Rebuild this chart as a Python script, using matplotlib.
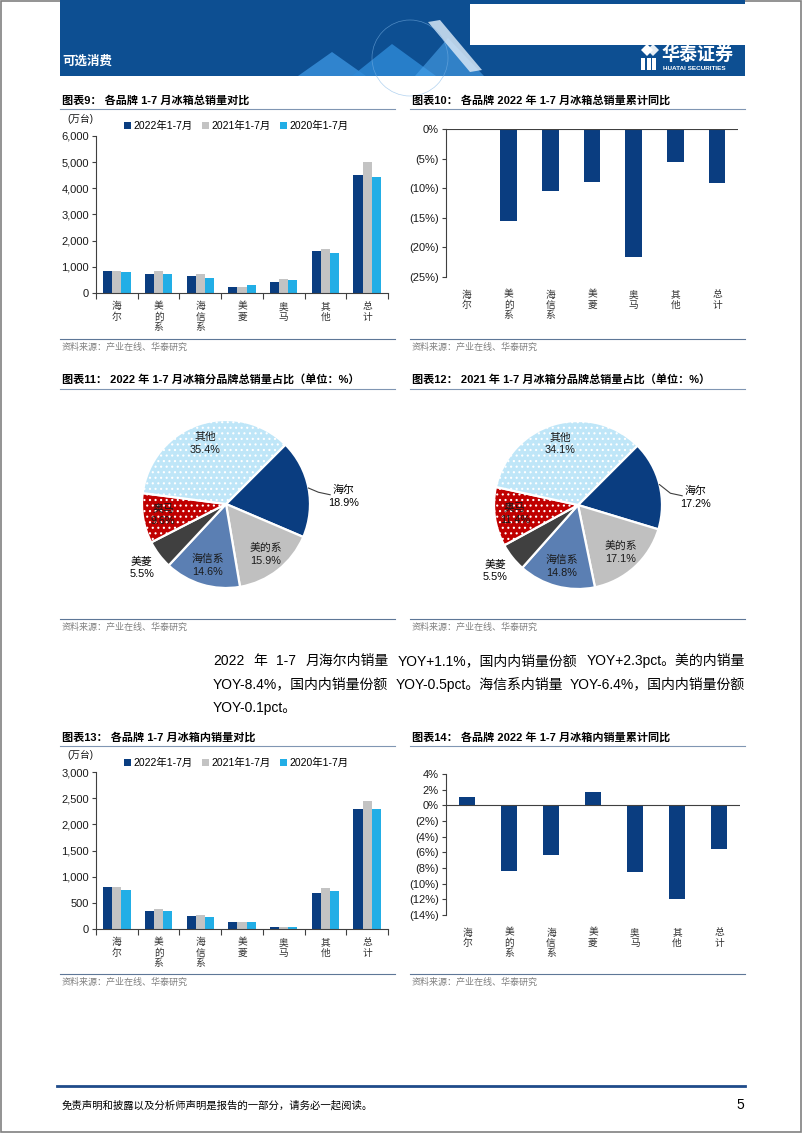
import numpy as np
import matplotlib
matplotlib.use("Agg")
import matplotlib.pyplot as plt
from matplotlib.patches import Rectangle, Polygon, Circle
from matplotlib.ticker import FuncFormatter, FixedLocator

plt.rcParams['font.family'] = ['Liberation Sans', 'Noto Sans CJK SC']
plt.rcParams['hatch.linewidth'] = 0.8
plt.rcParams['axes.unicode_minus'] = False

# ---- data ----
brands = ['海尔', '美的系', '海信系', '美菱', '奥马', '其他', '总计']
series_names = ['2022年1-7月', '2021年1-7月', '2020年1-7月']

total_2022 = [850, 710, 650, 230, 430, 1590, 4520]
total_2021 = [850, 850, 735, 240, 545, 1690, 4990]
total_2020 = [800, 720, 570, 290, 480, 1520, 4430]
total_yoy = [-0.2, -15.5, -10.5, -8.9, -21.7, -5.6, -9.1]

pie_brands = ['海尔', '美的系', '海信系', '美菱', '奥马', '其他']
share_2022 = [18.9, 15.9, 14.6, 5.5, 9.6, 35.4]
share_2021 = [17.2, 17.1, 14.8, 5.5, 11.4, 34.1]

dom_2022 = [800, 346, 256, 128, 35, 680, 2300]
dom_2021 = [795, 378, 269, 128, 37, 776, 2440]
dom_2020 = [750, 353, 231, 135, 33, 724, 2288]
dom_yoy = [1.1, -8.4, -6.4, 1.7, -8.5, -11.9, -5.6]

# ---- colours ----
NAVY = '#0A3D80'
GRAY = '#C3C3C3'
CYAN = '#22AEE6'
pie_colors = [NAVY, '#C0C0C0', '#5B7FB3', '#404040', '#C00000', '#BFE6F8']
pie_hatch = [None, None, None, None, '...', '...']
LINE = '#8096B3'

W, H = 802, 1133
fig = plt.figure(figsize=(W / 100, H / 100), dpi=100)


def rect(x0, y0, x1, y1):
    # pixel box (top-left origin) -> figure fraction
    return [x0 / W, 1 - y1 / H, (x1 - x0) / W, (y1 - y0) / H]


bg = fig.add_axes([0, 0, 1, 1])
bg.set_xlim(0, W)
bg.set_ylim(H, 0)
bg.axis('off')

# page frame
bg.add_patch(Rectangle((0.5, 0.5), W - 1.5, H - 1.5, fill=False, ec='#808080', lw=1.2))

# header banner
bg.add_patch(Rectangle((60, 0), 685, 76, fc='#0D4F92', ec='none'))
bg.add_patch(Rectangle((470, 4), 275, 41, fc='white', ec='none'))
for pts, c, a in [([(298, 76), (332, 52), (366, 76)], '#3D97E3', 0.75),
                  ([(352, 76), (392, 44), (436, 76)], '#2E8AD8', 0.8),
                  ([(415, 76), (448, 38), (484, 76)], '#4AA3EC', 0.6),
                  ([(428, 22), (440, 20), (482, 70), (470, 72)], '#D5E6F6', 0.85)]:
    bg.add_patch(Polygon(pts, closed=True, fc=c, ec='none', alpha=a))
bg.add_patch(Circle((410, 58), 38, fill=False, ec='#7DB4E6', lw=0.5, alpha=0.6))
bg.text(62, 62, '可选消费', color='white', fontsize=9, fontweight='bold', va='center')

# logo
bg.add_patch(Polygon([(641, 50), (647, 44), (653, 50), (647, 56)], fc='white', ec='none'))
bg.add_patch(Polygon([(647, 50), (653, 44), (659, 50), (653, 56)], fc='white', ec='none', alpha=0.9))
for xb in [641, 646.5, 652]:
    bg.add_patch(Rectangle((xb, 58), 4, 12, fc='white', ec='none'))
bg.text(662, 55, '华泰证券', color='white', fontsize=13, fontweight='bold', va='center')
bg.text(663, 68, 'HUATAI SECURITIES', color='white', fontsize=4.6, fontweight='bold', va='center')


# chart titles / source lines
def frame_text(x0, x1, y_title, title, y_src):
    bg.text(x0 + 2, y_title, title, fontsize=8, fontweight='bold', va='center')
    bg.plot([x0, x1], [y_title + 9, y_title + 9], color=LINE, lw=0.8)
    bg.plot([x0, x1], [y_src - 8, y_src - 8], color='#5E7797', lw=0.8)
    bg.text(x0 + 2, y_src, '资料来源：产业在线、华泰研究', fontsize=6.5, color='#808080', va='center')


frame_text(60, 395, 100, '图表9： 各品牌 1-7 月冰箱总销量对比', 347)
frame_text(410, 745, 100, '图表10： 各品牌 2022 年 1-7 月冰箱总销量累计同比', 347)
frame_text(60, 395, 380, '图表11： 2022 年 1-7 月冰箱分品牌总销量占比（单位：%）', 627)
frame_text(410, 745, 380, '图表12： 2021 年 1-7 月冰箱分品牌总销量占比（单位：%）', 627)
frame_text(60, 395, 737, '图表13： 各品牌 1-7 月冰箱内销量对比', 982)
frame_text(410, 745, 737, '图表14： 各品牌 2022 年 1-7 月冰箱内销量累计同比', 982)

# paragraph, justified between x=213 and x=745
para = ['2022 年 1-7 月海尔内销量 YOY+1.1%，国内内销量份额 YOY+2.3pct。美的内销量',
        'YOY-8.4%，国内内销量份额 YOY-0.5pct。海信系内销量 YOY-6.4%，国内内销量份额',
        'YOY-0.1pct。']
renderer = fig.canvas.get_renderer()
PX0, PX1 = 213, 745
for i, line in enumerate(para):
    y = 661 + i * 23.5
    tokens = line.split(' ')
    if i == len(para) - 1:
        bg.text(PX0, y, line, fontsize=10, va='center')
        continue
    objs = [bg.text(0, y, t, fontsize=10, va='center') for t in tokens]
    widths = [o.get_window_extent(renderer).width for o in objs]
    gap = (PX1 - PX0 - sum(widths)) / (len(tokens) - 1)
    xpos = PX0
    for o, wd in zip(objs, widths):
        o.set_x(xpos)
        xpos += wd + gap

# footer
bg.plot([57, 745], [1086, 1086], color='#1F4B8A', lw=2)
bg.text(62, 1105, '免责声明和披露以及分析师声明是报告的一部分，请务必一起阅读。',
        fontsize=7.5, style='italic', va='center')
bg.text(744, 1105, '5', fontsize=10, ha='right', va='center')

cat_labels = ['\n'.join(b) for b in brands]
x = np.arange(len(brands))


def style_axis(ax):
    for s in ['top', 'right']:
        ax.spines[s].set_visible(False)
    ax.spines['left'].set_color('#404040')
    ax.spines['left'].set_linewidth(0.8)
    ax.tick_params(axis='y', direction='out', length=3, width=0.8, color='#404040',
                   labelsize=8, pad=2, labelcolor='#1a1a1a')
    ax.set_xlim(-0.5, len(brands) - 0.5)
    ax.set_xticks(x)
    ax.set_xticklabels(cat_labels, fontsize=7, linespacing=1.05, color='#333333')
    ax.tick_params(axis='x', which='major', length=0, pad=6)
    ax.patch.set_alpha(0)


def grouped_bars(box, s22, s21, s20, ymax, ystep, legend_y, unit_y):
    ax = fig.add_axes(rect(*box))
    w = 0.22
    ax.bar(x - w, s22, w, color=NAVY, label=series_names[0])
    ax.bar(x, s21, w, color=GRAY, label=series_names[1])
    ax.bar(x + w, s20, w, color=CYAN, label=series_names[2])
    style_axis(ax)
    ax.set_ylim(0, ymax)
    ax.set_yticks(np.arange(0, ymax + 1, ystep))
    ax.yaxis.set_major_formatter(FuncFormatter(lambda v, p: f'{v:,.0f}'))
    ax.spines['bottom'].set_color('#404040')
    ax.spines['bottom'].set_linewidth(0.8)
    ax.xaxis.set_minor_locator(FixedLocator(np.arange(-0.5, len(brands), 1.0)))
    ax.tick_params(axis='x', which='minor', length=4, width=0.8, color='#404040')
    ax.legend(loc='center left', bbox_to_anchor=(124 / W, 1 - legend_y / H),
              bbox_transform=fig.transFigure, ncol=3, frameon=False, fontsize=7.5,
              handlelength=0.65, handleheight=0.65, handletextpad=0.25,
              columnspacing=0.9, borderaxespad=0, borderpad=0)
    bg.text(67, unit_y, '(万台)', fontsize=7, va='center', color='#1a1a1a')
    return ax


def yoy_bars(box, vals, ylo, yhi, ystep):
    ax = fig.add_axes(rect(*box))
    ax.bar(x, vals, 0.4, color=NAVY)
    style_axis(ax)
    ax.spines['bottom'].set_visible(False)
    ax.axhline(0, color='#404040', lw=0.8)
    ax.set_ylim(ylo, yhi)
    ax.set_yticks(np.arange(ylo, yhi + 0.1, ystep))
    ax.yaxis.set_major_formatter(
        FuncFormatter(lambda v, p: f'({abs(v):.0f}%)' if v < 0 else f'{v:.0f}%'))
    ax.tick_params(axis='x', which='major', pad=9)
    return ax


grouped_bars((96, 136, 388, 293), total_2022, total_2021, total_2020, 6000, 1000, 126, 119)
yoy_bars((446, 129, 738, 277), total_yoy, -25, 0, 5)
grouped_bars((96, 772, 388, 929), dom_2022, dom_2021, dom_2020, 3000, 500, 763, 755)
yoy_bars((446, 774, 740, 915), dom_yoy, -14, 4, 2)


def share_pie(cx, cy, shares):
    r_px = 84
    half = 125
    ax = fig.add_axes(rect(cx - half, cy - half, cx + half, cy + half))
    wedges, _ = ax.pie(shares, colors=pie_colors, startangle=45, counterclock=False,
                       wedgeprops=dict(edgecolor='white', linewidth=1.6))
    for wdg, h in zip(wedges, pie_hatch):
        if h:
            wdg.set_hatch(h)
    lim = half / r_px
    ax.set_xlim(-lim, lim)
    ax.set_ylim(-lim, lim)
    ax.set_aspect('equal')
    ax.axis('off')
    for wdg, name, val in zip(wedges, pie_brands, shares):
        mid = np.deg2rad((wdg.theta1 + wdg.theta2) / 2)
        txt = f'{name}\n{val:.1f}%'
        if name == '海尔':
            ex, ey = np.cos(mid), np.sin(mid)
            ax.plot([ex, 1.1, 1.24], [ey, 0.14, 0.11], color='#404040', lw=0.8)
            ax.text(1.40, 0.09, txt, ha='center', va='center', fontsize=7.8, linespacing=1.35)
        elif name == '美菱':
            ax.text(1.26 * np.cos(mid), 1.26 * np.sin(mid), txt, ha='center', va='center',
                    fontsize=7.8, linespacing=1.35)
        else:
            ax.text(0.76 * np.cos(mid), 0.76 * np.sin(mid), txt, ha='center', va='center',
                    fontsize=7.8, linespacing=1.35, color='#1a1a1a')


share_pie(226, 504, share_2022)
share_pie(578, 505, share_2021)

fig.savefig('out.png', dpi=100)
